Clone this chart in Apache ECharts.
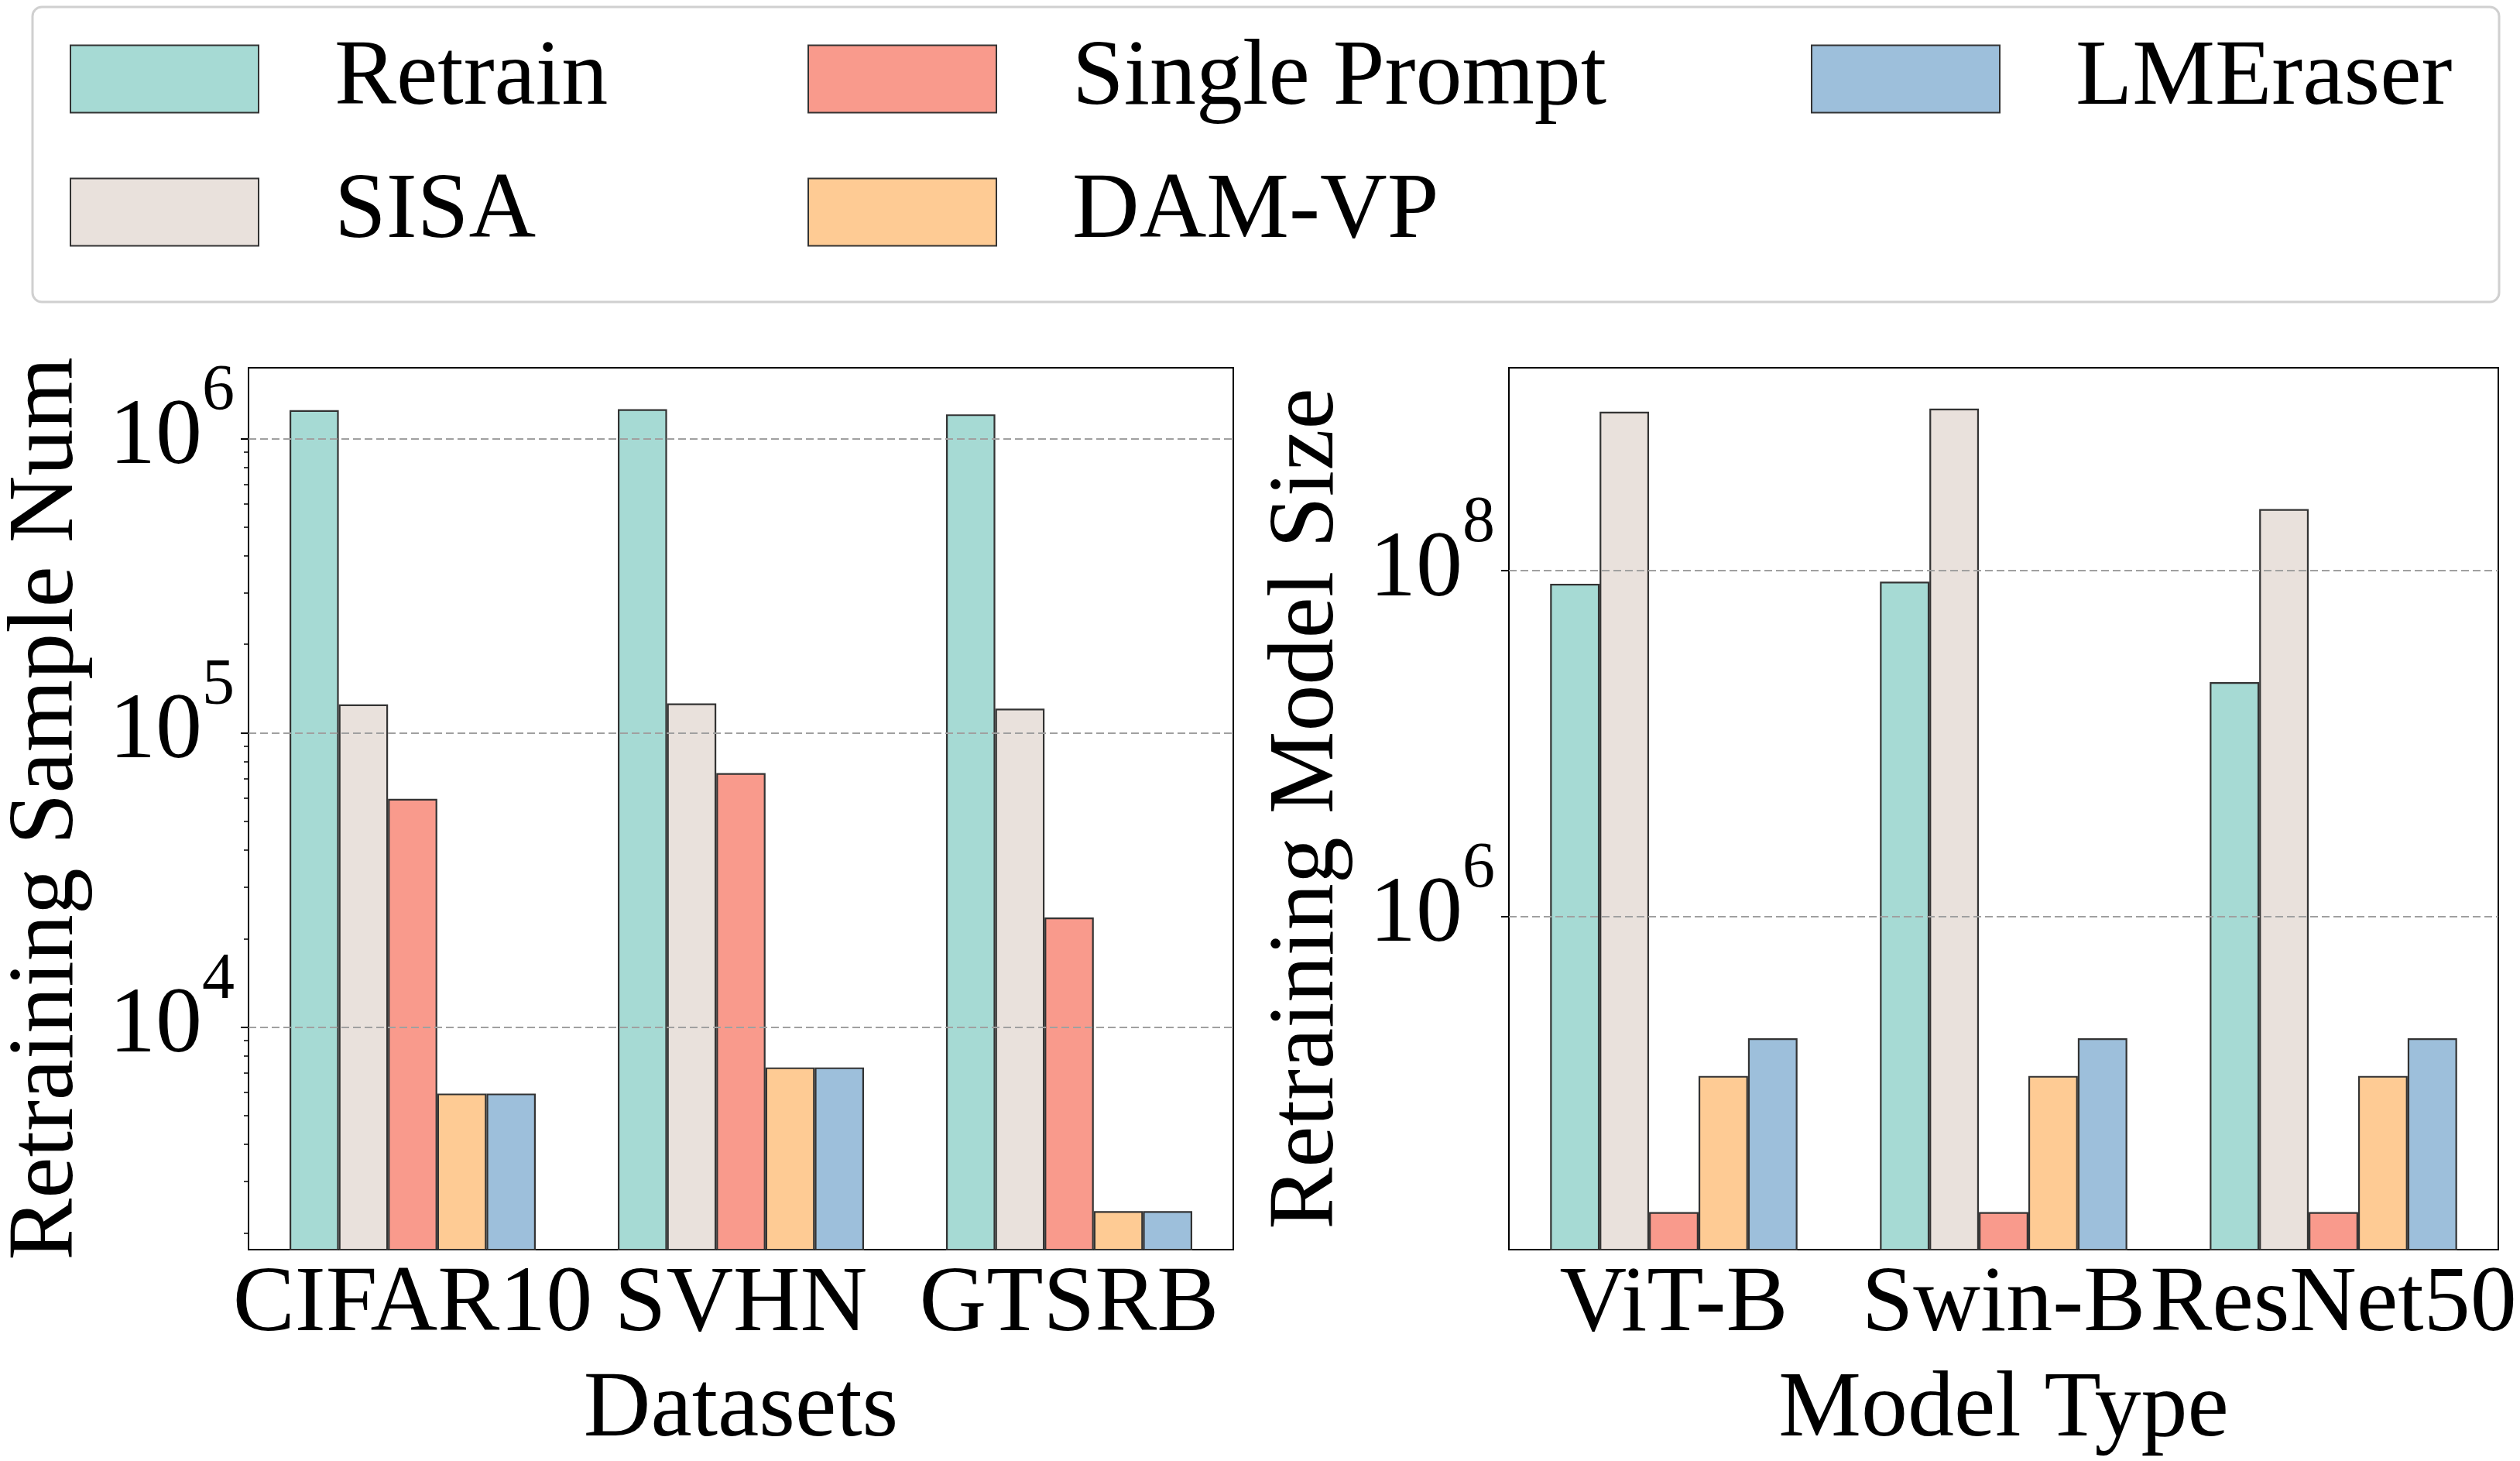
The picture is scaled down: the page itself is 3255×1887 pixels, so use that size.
<!DOCTYPE html>
<html><head><meta charset="utf-8">
<script src="https://cdn.jsdelivr.net/npm/echarts@6/dist/echarts.min.js"></script>
<style>html,body{margin:0;padding:0;background:#fff;} #c{width:3255px;height:1887px;}</style>
</head><body><div id="c"></div>
<script>
const seriesNames = ['Retrain', 'SISA', 'Single Prompt', 'DAM-VP', 'LMEraser'];
const seriesColors = ['#a6dad4', '#e9e1dc', '#f99a8c', '#fecb94', '#9dbfdb'];
const datasets = ['CIFAR10', 'SVHN', 'GTSRB'];
const modelTypes = ['ViT-B', 'Swin-B', 'ResNet50'];

// Retraining sample number (per dataset)
const sampleRetrain = [1.25e6, 1.26e6, 1.21e6];
const sampleSISA = [1.25e5, 1.26e5, 1.21e5];
const sampleSingle = [5.97e4, 7.3e4, 2.36e4];
const sampleDAM = [5950, 7300, 2370];
const sampleLME = [5950, 7300, 2370];

// Retraining model size (per model type)
const sizeRetrain = [8.4e7, 8.65e7, 2.27e7];
const sizeSISA = [8.3e8, 8.65e8, 2.27e8];
const sizeSingle = [1.96e4, 1.96e4, 1.96e4];
const sizeDAM = [1.2e5, 1.2e5, 1.2e5];
const sizeLME = [1.98e5, 1.98e5, 1.98e5];

const sampleTicks = [1e4, 1e5, 1e6];
const sizeTicks = [1e6, 1e8];
const sampleRange = [1754, 1.742e6];
const sizeRange = [11885, 1.49e9];

const FONT = '"Liberation Serif", "Times New Roman", Times, serif';
const chart = echarts.init(document.getElementById('c'), null, {renderer: 'canvas'});

function supFmt(v) {
  const e = Math.round(Math.log10(v));
  return '{b|10}{s|' + e + '}';
}
const supRich = {
  b: {fontFamily: FONT, fontSize: 120, color: '#000', lineHeight: 204},
  s: {fontFamily: FONT, fontSize: 84, color: '#000', lineHeight: 84, verticalAlign: 'top'}
};

function xAxisDef(idx, cats, name) {
  return {
    type: 'category', gridIndex: idx, data: cats,
    axisLine: {lineStyle: {color: '#000', width: 2}},
    axisTick: {alignWithLabel: true, length: 10, lineStyle: {color: '#000', width: 2}},
    axisLabel: {interval: 0, fontFamily: FONT, fontSize: 120, color: '#000', margin: 12},
    name: name, nameLocation: 'middle', nameGap: 148,
    nameTextStyle: {fontFamily: FONT, fontSize: 120, color: '#000'}
  };
}
function yAxisDef(idx, range, ticks, name, minor) {
  return {
    type: 'log', logBase: 10, gridIndex: idx, min: range[0], max: range[1],
    axisLine: {show: true, lineStyle: {color: '#000', width: 2}},
    axisTick: {show: true, length: 10, lineStyle: {color: '#000', width: 2}, customValues: ticks},
    axisLabel: {customValues: ticks, formatter: supFmt, rich: supRich, margin: 18},
    minorTick: {show: minor, splitNumber: 9, length: 6, lineStyle: {color: '#000', width: 1.5}},
    splitLine: {show: false},
    name: name, nameLocation: 'middle', nameGap: 200,
    nameTextStyle: {fontFamily: FONT, fontSize: 120, color: '#000', padding: [0, 0, 0, 0]}
  };
}

const sampleData = [sampleRetrain, sampleSISA, sampleSingle, sampleDAM, sampleLME];
const sizeData = [sizeRetrain, sizeSISA, sizeSingle, sizeDAM, sizeLME];

const series = [];
function addSeries(gridIdx, dataArr, ticks) {
  dataArr.forEach((d, i) => {
    const s = {
      name: seriesNames[i], type: 'bar', xAxisIndex: gridIdx, yAxisIndex: gridIdx,
      data: d, barGap: '0%', barCategoryGap: '25%',
      itemStyle: {color: seriesColors[i], borderColor: '#333', borderWidth: 2.2}
    };
    if (i === dataArr.length - 1) {
      s.markLine = {
        silent: true, symbol: ['none', 'none'], label: {show: false},
        lineStyle: {type: [10, 5], color: '#a0a0a0', width: 2},
        data: ticks.map(v => ({yAxis: v}))
      };
    }
    series.push(s);
  });
}
addSeries(0, sampleData, sampleTicks);
addSeries(1, sizeData, sizeTicks);

const legendCommon = {
  orient: 'vertical', icon: 'rect', padding: 0, top: 42,
  itemWidth: 243, itemHeight: 87, itemGap: 52,
  textStyle: {fontFamily: FONT, fontSize: 120, color: '#000', lineHeight: 87, padding: [0, 0, 0, 93]}
};

const option = {
  animation: false,
  backgroundColor: '#fff',
  textStyle: {fontFamily: FONT},
  graphic: [{
    type: 'rect', z: -1,
    shape: {x: 42, y: 9, width: 3186, height: 381, r: 12},
    style: {fill: '#fff', stroke: '#d0d0d0', lineWidth: 3}
  }],
  legend: [
    Object.assign({}, legendCommon, {left: 90, data: [seriesNames[0], seriesNames[1]]}),
    Object.assign({}, legendCommon, {left: 1043, data: [seriesNames[2], seriesNames[3]]}),
    Object.assign({}, legendCommon, {left: 2339, data: [seriesNames[4]]})
  ],
  grid: [
    {left: 318, top: 475, width: 1275, height: 1145, show: true, borderColor: '#000', borderWidth: 2, backgroundColor: 'transparent'},
    {left: 1949, top: 475, width: 1278, height: 1145, show: true, borderColor: '#000', borderWidth: 2, backgroundColor: 'transparent'}
  ],
  xAxis: [xAxisDef(0, datasets, 'Datasets'), xAxisDef(1, modelTypes, 'Model Type')],
  yAxis: [
    yAxisDef(0, sampleRange, sampleTicks, 'Retraining Sample Num', true),
    yAxisDef(1, sizeRange, sizeTicks, 'Retraining Model Size', false)
  ],
  series: series
};
chart.setOption(option);
</script>
</body></html>
